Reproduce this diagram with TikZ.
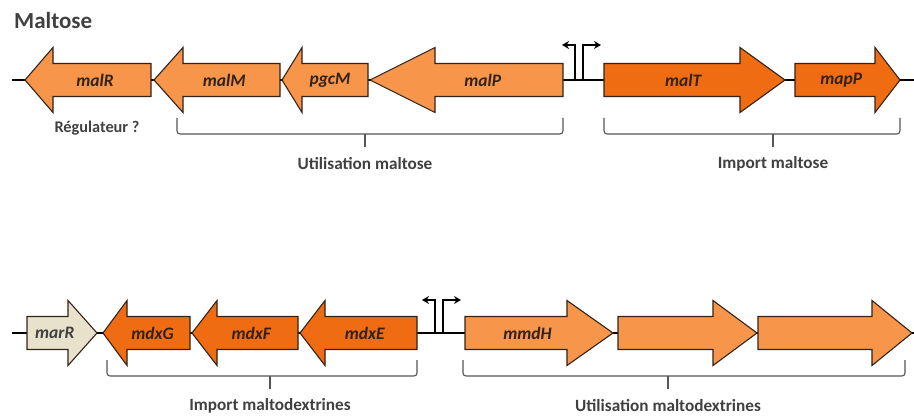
\documentclass[tikz,border=0pt]{standalone}
\usepackage{fontspec}
\setmainfont{Carlito}
\usetikzlibrary{arrows.meta}
\definecolor{genelight}{RGB}{247,150,74}
\definecolor{genedark}{RGB}{240,108,18}
\definecolor{genebeige}{RGB}{232,226,204}
\definecolor{geneline}{RGB}{50,35,25}
\definecolor{bracegray}{RGB}{85,85,85}
\definecolor{labelgray}{RGB}{64,64,64}
\tikzset{
  backbone/.style={line width=2.6pt, black},
  geneedge/.style={line width=1.1pt, draw=geneline, line join=miter},
  genelabel/.style={font=\fontsize{17.5}{19}\selectfont\bfseries\itshape, text=geneline, inner sep=0pt},
  prom/.style={line width=2.4pt, black, -{Stealth[length=7pt,width=8pt]}},
  bracket/.style={line width=1.1pt, bracegray, rounded corners=3pt},
  operonlabel/.style={font=\fontsize{17.2}{19}\selectfont\bfseries, text=labelgray, inner sep=0pt},
}
% gene arrow: name, tail x, head base x, tip x, y, fill, label
\newcommand{\gene}[7]{%
  \draw[geneedge, fill=#6] (#2,#5-16.5) -- (#3,#5-16.5) -- (#3,#5-32.5) -- (#4,#5)
    -- (#3,#5+32.5) -- (#3,#5+16.5) -- (#2,#5+16.5) -- cycle;
  \node[genelabel] (#1) at ({(2*#2+#3+#4)/4},#5) {#7};
}
% divergent promoter: name, x, y, height
\newcommand{\promoter}[4]{%
  \coordinate (#1) at (#2,#3);
  \draw[prom] (#2-4,#3) -- (#2-4,#3-#4) -- (#2-17,#3-#4);
  \draw[prom] (#2+4,#3) -- (#2+4,#3-#4) -- (#2+22,#3-#4);
}
% operon bracket: name, x1, x2, x middle, y top, label
\newcommand{\operon}[6]{%
  \draw[bracket] (#2,#5) -- (#2,#5+16) -- (#3,#5+16) -- (#3,#5);
  \draw[bracket] (#4,#5+16) -- (#4,#5+29);
  \node[operonlabel] (#1) at (#4,#5+46) {#6};
}
\begin{document}
\begin{tikzpicture}[x=1pt, y=-1pt]
  \useasboundingbox (0,0) rectangle (914,420);
  % Title
  \node[anchor=west, inner sep=0pt, font=\fontsize{23}{25}\selectfont\bfseries, text=labelgray] (title) at (14,21) {Maltose};
  % Maltose locus
  \draw[backbone] (12,80) -- (914,80);
  \gene{malR}{151}{53}{25}{80}{genelight}{malR}
  \gene{malM}{280}{183}{154}{80}{genelight}{malM}
  \gene{pgcM}{368}{302}{282}{80}{genelight}{pgcM}
  \gene{malP}{563}{435}{370}{80}{genelight}{malP}
  \promoter{pmal}{579}{80}{35}
  \gene{malT}{604}{740}{785}{80}{genedark}{malT}
  \gene{mapP}{795}{875}{900}{80}{genedark}{mapP}
  \node[operonlabel, font=\fontsize{16.3}{18}\selectfont\bfseries] (reg) at (97,128) {Régulateur ?};
  \operon{utilmal}{177}{563}{365}{118}{Utilisation maltose}
  \operon{impmal}{604}{900}{773}{118}{Import maltose}
  % Maltodextrin locus
  \draw[backbone] (12,333) -- (914,333);
  \gene{marR}{27}{68}{97}{333}{genebeige}{\textcolor{labelgray}{marR}}
  \gene{mdxG}{190}{127}{103}{333}{genedark}{mdxG}
  \gene{mdxF}{298}{217}{192}{333}{genedark}{mdxF}
  \gene{mdxE}{417}{325}{300}{333}{genedark}{mdxE}
  \promoter{pmdx}{439}{333}{33}
  \gene{mmdH}{465}{567}{613}{333}{genelight}{mmdH}
  \gene{orfA}{618}{713}{757}{333}{genelight}{}
  \gene{orfB}{758}{872}{912}{333}{genelight}{}
  \operon{impmdx}{107}{417}{270}{360}{Import maltodextrines}
  \operon{utilmdx}{463}{905}{668}{360}{Utilisation maltodextrines}
\end{tikzpicture}
\end{document}
